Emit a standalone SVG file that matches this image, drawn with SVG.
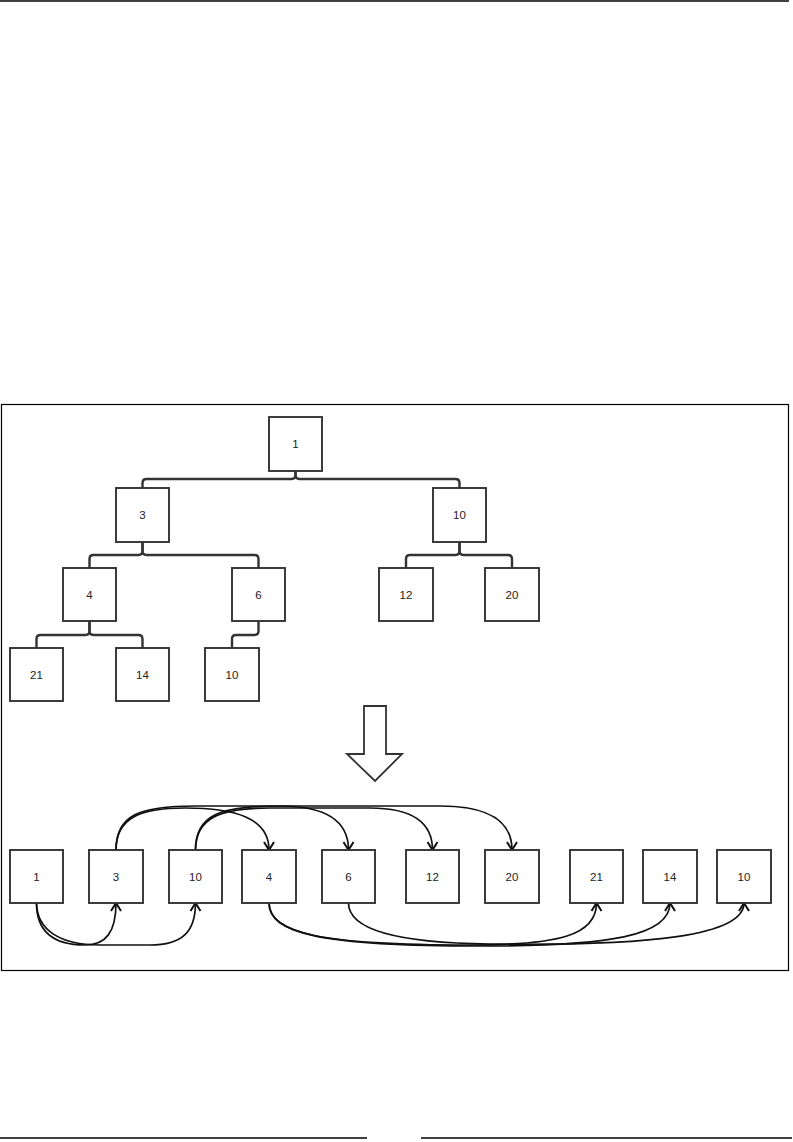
<svg xmlns="http://www.w3.org/2000/svg" width="793" height="1142" viewBox="0 0 793 1142">
<style>
.n rect{fill:#fff;stroke:#333;stroke-width:1.9}
.n text{font-family:"Liberation Sans",Arial,sans-serif;font-size:11.5px;fill:#222;text-anchor:middle;dominant-baseline:central}
.t{fill:none;stroke:#333;stroke-width:2.4}
.c{fill:none;stroke:#111;stroke-width:1.7}
</style>
<defs>
<marker id="ah" markerUnits="userSpaceOnUse" markerWidth="16" markerHeight="16" refX="0" refY="0" viewBox="-11 -8 16 16" orient="auto">
<path d="M-8,-5 L0,0 L-8,5" fill="none" stroke="#111" stroke-width="2"/>
</marker>
</defs>
<g id="page-rules" stroke="#000" stroke-width="1.5">
<line x1="0" y1="1" x2="789" y2="1"/>
<line x1="0" y1="1138" x2="367" y2="1138"/>
<line x1="421" y1="1138" x2="792" y2="1138"/>
</g>
<rect id="frame" x="1.5" y="404.5" width="787" height="566" fill="none" stroke="#000" stroke-width="1.2"/>
<g id="connectors">
<g id="tree-edges">
<path class="t" d="M295.5,471 V475 Q295.5,479 291.5,479 H146.5 Q142.5,479 142.5,483 V488"/>
<path class="t" d="M295.5,471 V475 Q295.5,479 299.5,479 H455.5 Q459.5,479 459.5,483 V488"/>
<path class="t" d="M142.5,542 V551 Q142.5,555 138.5,555 H93.5 Q89.5,555 89.5,559 V568"/>
<path class="t" d="M142.5,542 V551 Q142.5,555 146.5,555 H254.5 Q258.5,555 258.5,559 V568"/>
<path class="t" d="M459.5,542 V551 Q459.5,555 455.5,555 H410 Q406,555 406,559 V568"/>
<path class="t" d="M459.5,542 V551 Q459.5,555 463.5,555 H508 Q512,555 512,559 V568"/>
<path class="t" d="M89.5,621 V631 Q89.5,635 85.5,635 H40.5 Q36.5,635 36.5,639 V648"/>
<path class="t" d="M89.5,621 V631 Q89.5,635 93.5,635 H138.5 Q142.5,635 142.5,639 V648"/>
<path class="t" d="M258.5,621 V631 Q258.5,635 254.5,635 H236 Q232,635 232,639 V648"/>
</g>
<g id="array-edges">
<path class="c" marker-end="url(#ah)" d="M116,850 C116,818 140,808 185,808 C235,808 269,818 269,850"/>
<path class="c" marker-end="url(#ah)" d="M116,850 C116,815 140,806 195,806 L280,806 C325,806 348.5,820 348.5,850"/>
<path class="c" marker-end="url(#ah)" d="M195.5,850 C195.5,818 220,808 270,808 L370,808 C412,808 432.5,822 432.5,850"/>
<path class="c" marker-end="url(#ah)" d="M195.5,850 C195.5,815 220,806 280,806 L440,806 C488,806 512,820 512,850"/>
<path class="c" marker-end="url(#ah)" d="M36.5,903 C36.5,935 58,945 85,945 C106,945 116,932 116,903"/>
<path class="c" marker-end="url(#ah)" d="M36.5,903 C37,930 60,945 100,945 L150,945 C182,945 195.5,932 195.5,903"/>
<path class="c" marker-end="url(#ah)" d="M269,903 C269,933 320,945 470,945 C560,945 596.5,935 596.5,903"/>
<path class="c" marker-end="url(#ah)" d="M269,903 C270,934 322,946 480,946 C610,946 670,936 670,903"/>
<path class="c" marker-end="url(#ah)" d="M348.5,903 C348.5,930 400,943 490,944 C650,946 744,936 744,903"/>
</g>
</g>
<g id="big-arrow">
<path d="M364,706 H386 V754 H402 L375,781 L347,754 H364 Z" fill="#fff" stroke="#333" stroke-width="1.8"/>
</g>
<g id="t1" class="n"><rect x="269" y="417" width="53" height="54"/><text x="295.5" y="444">1</text></g>
<g id="t3" class="n"><rect x="116" y="488" width="53" height="54"/><text x="142.5" y="515">3</text></g>
<g id="t10a" class="n"><rect x="433" y="488" width="53" height="54"/><text x="459.5" y="515">10</text></g>
<g id="t4" class="n"><rect x="63" y="568" width="53" height="53"/><text x="89.5" y="594.5">4</text></g>
<g id="t6" class="n"><rect x="232" y="568" width="53" height="53"/><text x="258.5" y="594.5">6</text></g>
<g id="t12" class="n"><rect x="379" y="568" width="54" height="53"/><text x="406" y="594.5">12</text></g>
<g id="t20" class="n"><rect x="485" y="568" width="54" height="53"/><text x="512" y="594.5">20</text></g>
<g id="t21" class="n"><rect x="10" y="648" width="53" height="53"/><text x="36.5" y="674.5">21</text></g>
<g id="t14" class="n"><rect x="116" y="648" width="53" height="53"/><text x="142.5" y="674.5">14</text></g>
<g id="t10b" class="n"><rect x="205" y="648" width="54" height="53"/><text x="232" y="674.5">10</text></g>
<g id="a1" class="n"><rect x="10" y="850" width="53" height="53"/><text x="36.5" y="876.5">1</text></g>
<g id="a3" class="n"><rect x="89" y="850" width="54" height="53"/><text x="116" y="876.5">3</text></g>
<g id="a10" class="n"><rect x="169" y="850" width="53" height="53"/><text x="195.5" y="876.5">10</text></g>
<g id="a4" class="n"><rect x="242" y="850" width="54" height="53"/><text x="269" y="876.5">4</text></g>
<g id="a6" class="n"><rect x="322" y="850" width="53" height="53"/><text x="348.5" y="876.5">6</text></g>
<g id="a12" class="n"><rect x="406" y="850" width="53" height="53"/><text x="432.5" y="876.5">12</text></g>
<g id="a20" class="n"><rect x="485" y="850" width="54" height="53"/><text x="512" y="876.5">20</text></g>
<g id="a21" class="n"><rect x="570" y="850" width="53" height="53"/><text x="596.5" y="876.5">21</text></g>
<g id="a14" class="n"><rect x="643" y="850" width="54" height="53"/><text x="670" y="876.5">14</text></g>
<g id="a10b" class="n"><rect x="717" y="850" width="54" height="53"/><text x="744" y="876.5">10</text></g>
</svg>
